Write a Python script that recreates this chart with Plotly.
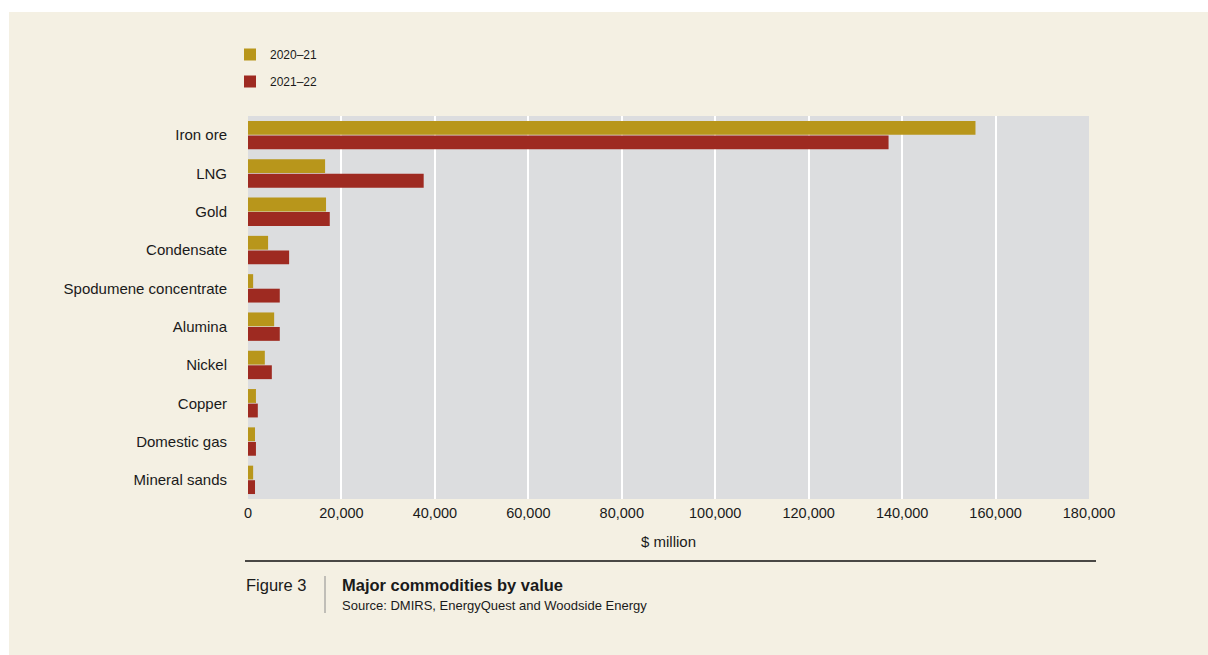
import plotly.graph_objects as go

# ---- data ----
categories = ["Iron ore", "LNG", "Gold", "Condensate", "Spodumene concentrate",
              "Alumina", "Nickel", "Copper", "Domestic gas", "Mineral sands"]
values_2020_21 = [155700, 16500, 16700, 4300, 1100, 5600, 3600, 1700, 1500, 1100]
values_2021_22 = [137100, 37600, 17500, 8800, 6800, 6800, 5100, 2100, 1700, 1500]
series_names = ["2020–21", "2021–22"]
x_ticks = [0, 20000, 40000, 60000, 80000, 100000, 120000, 140000, 160000, 180000]

# ---- style ----
W, H = 1208, 655
L, R, T, B = 248, 1089, 116, 499   # plot-area edges in pixels
FONT = "Liberation Sans, Arial, Helvetica, sans-serif"
GOLD = "#B8961B"
RED = "#9E2A21"
BEIGE = "#F4F0E3"
PLOTBG = "#DCDDDF"
TXT = "#1A1A1A"


def px2x(px):
    return (px - L) / (R - L)


def px2y(py):
    return (B - py) / (B - T)


fig = go.Figure()
fig.add_trace(go.Bar(y=categories, x=values_2020_21, name=series_names[0], orientation="h",
                     marker=dict(color=GOLD, line=dict(width=0)), legendgroup="a"))
fig.add_trace(go.Bar(y=categories, x=values_2021_22, name=series_names[1], orientation="h",
                     marker=dict(color=RED, line=dict(width=0)), legendgroup="b"))

fig.update_layout(
    width=W, height=H,
    margin=dict(l=L, r=W - R, t=T, b=H - B, pad=0),
    paper_bgcolor=BEIGE,
    plot_bgcolor=PLOTBG,
    barmode="group", bargap=0.24, bargroupgap=0.05,
    font=dict(family=FONT, size=15, color=TXT),
    showlegend=True,
    legend=dict(x=px2x(230), y=px2y(40), xanchor="left", yanchor="top",
                bgcolor="rgba(0,0,0,0)", font=dict(size=12, color=TXT),
                tracegroupgap=8, itemwidth=30, traceorder="grouped"),
    xaxis=dict(range=[0, 180000], tickvals=x_ticks,
               ticktext=[f"{v:,}" for v in x_ticks],
               showgrid=True, gridcolor="white", gridwidth=1.5, zeroline=False,
               showline=False, ticks="outside", ticklen=1, tickcolor="rgba(0,0,0,0)",
               tickfont=dict(size=14.5),
               title=dict(text="$ million", font=dict(size=15), standoff=16),
               fixedrange=True),
    yaxis=dict(autorange="reversed", showgrid=False, zeroline=False, showline=False,
               ticks="", ticklabelstandoff=20, tickfont=dict(size=15), fixedrange=True),
    shapes=[
        # white page border strips (top and left)
        dict(type="rect", xref="paper", yref="paper", x0=px2x(0), x1=px2x(W), y0=px2y(12), y1=px2y(0),
             fillcolor="white", line=dict(width=0), layer="below"),
        dict(type="rect", xref="paper", yref="paper", x0=px2x(0), x1=px2x(9), y0=px2y(H), y1=px2y(0),
             fillcolor="white", line=dict(width=0), layer="below"),
        dict(type="line", xref="paper", yref="paper", x0=px2x(245), x1=px2x(1096), y0=px2y(561), y1=px2y(561),
             line=dict(color="#111111", width=1.5)),
        dict(type="line", xref="paper", yref="paper", x0=px2x(325), x1=px2x(325), y0=px2y(576), y1=px2y(613),
             line=dict(color="#8C8C8C", width=1)),
    ],
    annotations=[
        dict(text="Figure 3", xref="paper", yref="paper", x=px2x(244), y=px2y(585),
             xanchor="left", yanchor="middle", showarrow=False, font=dict(size=16.5, color=TXT)),
        dict(text="<b>Major commodities by value</b>", xref="paper", yref="paper", x=px2x(340), y=px2y(585),
             xanchor="left", yanchor="middle", showarrow=False, font=dict(size=16.5, color=TXT)),
        dict(text="Source: DMIRS, EnergyQuest and Woodside Energy", xref="paper", yref="paper",
             x=px2x(340), y=px2y(605), xanchor="left", yanchor="middle", showarrow=False,
             font=dict(size=13, color=TXT)),
    ],
)

fig.write_html(
    "out.html",
    config={"displayModeBar": False},
    post_script="document.documentElement.style.margin='0';document.body.style.margin='0';"
                "document.body.style.overflow='hidden';",
)
